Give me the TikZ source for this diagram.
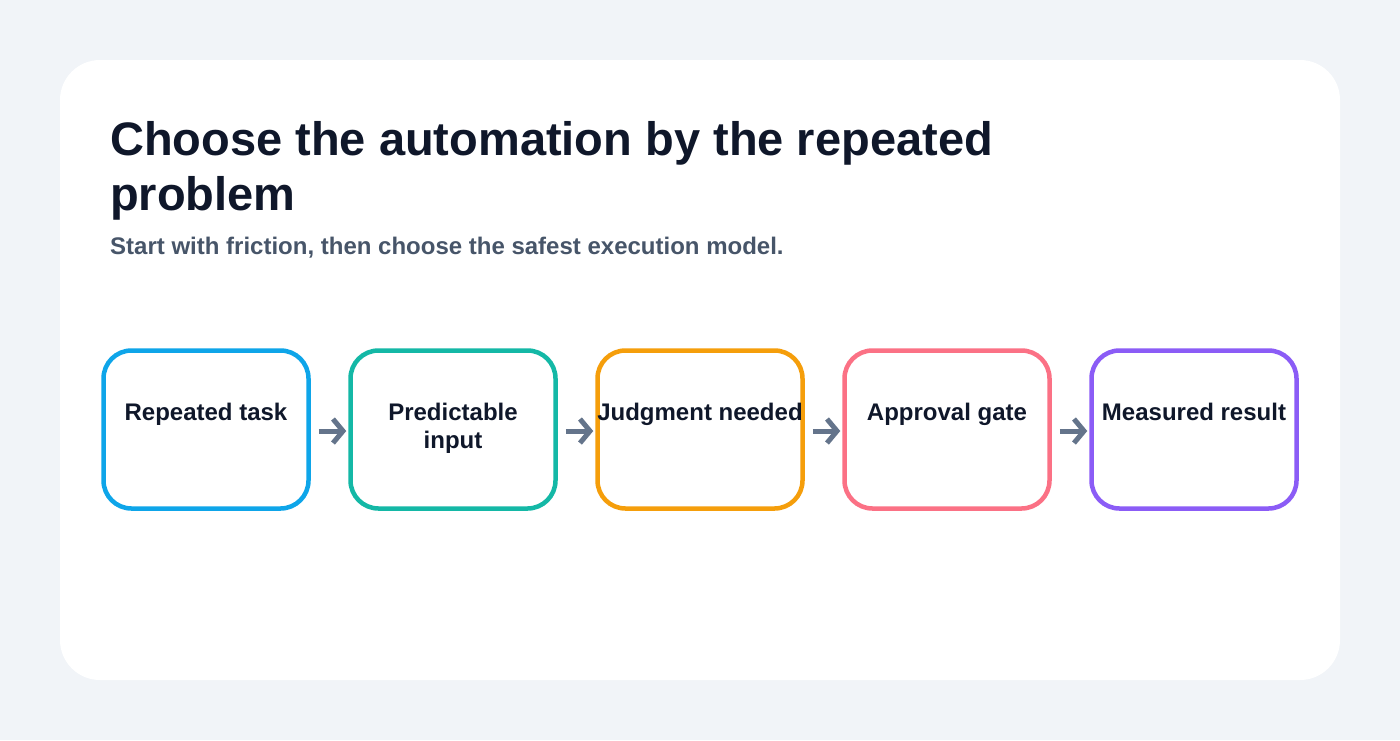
\documentclass[tikz,border=0pt]{standalone}
\usepackage{fontspec}
\setmainfont{Liberation Sans}
\usetikzlibrary{arrows.meta,positioning,calc}
\definecolor{pagebg}{HTML}{F1F4F8}
\definecolor{titlec}{HTML}{0F172A}
\definecolor{subc}{HTML}{475569}
\definecolor{arrowc}{HTML}{64748B}
\definecolor{cblue}{HTML}{0EA5E9}
\definecolor{cteal}{HTML}{14B8A6}
\definecolor{camber}{HTML}{F59E0B}
\definecolor{cpink}{HTML}{FB7185}
\definecolor{cpurple}{HTML}{8B5CF6}
\tikzset{
  stepbox/.style={draw=#1, line width=4.5pt, rounded corners=28pt, minimum width=205pt, minimum height=158pt, inner sep=0pt, fill=white},
  steplabel/.style={font=\bfseries\fontsize{24}{28}\selectfont, text=titlec, align=center, anchor=base, inner sep=0pt},
  flowarrow/.style={draw=arrowc, line width=5pt, -{Straight Barb[length=10pt,width=24pt]}},
}
\begin{document}
\begin{tikzpicture}[x=1pt,y=-1pt]
\useasboundingbox (0,0) rectangle (1400,740);
\fill[pagebg] (0,0) rectangle (1400,740);
\fill[white, rounded corners=40pt] (60,60) rectangle (1340,680);
\node[anchor=base west, inner sep=0pt, font=\bfseries\fontsize{47}{55}\selectfont, text=titlec, align=left] (title) at (110,210) {Choose the automation by the repeated\\problem};
\node[anchor=base west, inner sep=0pt, font=\bfseries\fontsize{24}{28}\selectfont, text=subc] (sub) at (110,254) {Start with friction, then choose the safest execution model.};
\node[stepbox=cblue] (b1) at (206,429.5) {};
\node[stepbox=cteal] (b2) at (453,429.5) {};
\node[stepbox=camber] (b3) at (700,429.5) {};
\node[stepbox=cpink] (b4) at (947,429.5) {};
\node[stepbox=cpurple] (b5) at (1194,429.5) {};
\node[steplabel] (l1) at (206,420) {Repeated task};
\node[steplabel] (l2) at (453,448) {Predictable\\input};
\node[steplabel] (l3) at (700,420) {Judgment needed};
\node[steplabel] (l4) at (947,420) {Approval gate};
\node[steplabel] (l5) at (1194,420) {Measured result};
\foreach \a/\b in {b1/b2,b2/b3,b3/b4,b4/b5}{
  \draw[flowarrow] ($(\a.east)+(8,1.5)$) -- ($(\b.west)+(-2,1.5)$);
}
\end{tikzpicture}
\end{document}
